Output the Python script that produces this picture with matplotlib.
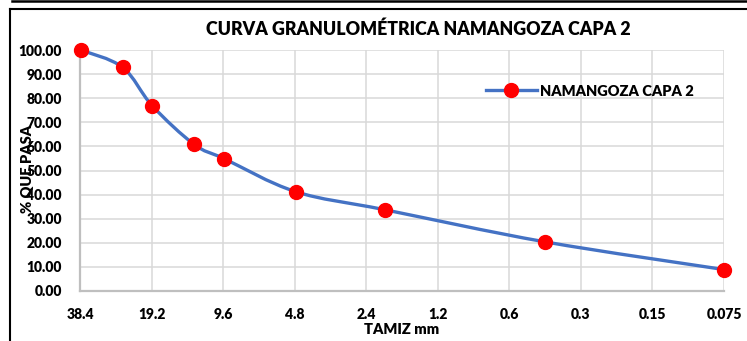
import numpy as np
import matplotlib
matplotlib.use("Agg")
import matplotlib.pyplot as plt
from matplotlib.path import Path
from matplotlib.patches import PathPatch
from matplotlib.lines import Line2D
from matplotlib.ticker import FixedLocator, NullLocator

# Sieve opening (mm) and cumulative percent passing
sieve_mm = [38.1, 25.4, 19.05, 12.7, 9.5, 4.75, 2.0, 0.425, 0.075]
pct_passing = [100.0, 92.8, 76.8, 60.8, 54.9, 41.2, 33.7, 20.4, 8.9]

tick_values = [38.4, 19.2, 9.6, 4.8, 2.4, 1.2, 0.6, 0.3, 0.15, 0.075]
tick_labels = ["38.4", "19.2", "9.6", "4.8", "2.4", "1.2", "0.6", "0.3", "0.15", "0.075"]
y_ticks = [0, 10, 20, 30, 40, 50, 60, 70, 80, 90, 100]

series_name = "NAMANGOZA CAPA 2"
title = "CURVA GRANULOMÉTRICA NAMANGOZA CAPA 2"

FONT = "Lato"
WEIGHT = "heavy"
LINE_C = "#4472C4"
MARK_C = "#FF0000"

fig = plt.figure(figsize=(7.47, 3.41), dpi=100)
ax = fig.add_axes([80 / 747, 50 / 341, 644 / 747, 241 / 341])

ax.set_xscale("log")
ax.set_xlim(38.4, 0.075)
ax.set_ylim(0, 100)

# Smooth curve: Catmull-Rom style cubic Bezier segments computed in
# display-proportional (log-x, y) space, mapped back to data coordinates.
u = np.log2(38.4 / np.array(sieve_mm)) * 71.6
v = np.array(pct_passing) * 2.41
n = len(u)
verts = [(sieve_mm[0], pct_passing[0])]
codes = [Path.MOVETO]

def to_data(pu, pv):
    return (38.4 / 2 ** (pu / 71.6), pv / 2.41)

for i in range(n - 1):
    p0 = (u[max(i - 1, 0)], v[max(i - 1, 0)])
    p1 = (u[i], v[i])
    p2 = (u[i + 1], v[i + 1])
    p3 = (u[min(i + 2, n - 1)], v[min(i + 2, n - 1)])
    c1 = (p1[0] + (p2[0] - p0[0]) / 6, p1[1] + (p2[1] - p0[1]) / 6)
    c2 = (p2[0] - (p3[0] - p1[0]) / 6, p2[1] - (p3[1] - p1[1]) / 6)
    verts += [to_data(*c1), to_data(*c2), to_data(*p2)]
    codes += [Path.CURVE4] * 3

curve = PathPatch(Path(verts, codes), facecolor="none", edgecolor=LINE_C,
                  linewidth=2.4, capstyle="round", joinstyle="round", zorder=3)
ax.add_patch(curve)
ax.plot(sieve_mm, pct_passing, linestyle="none", marker="o", markersize=10,
        markerfacecolor=MARK_C, markeredgecolor=MARK_C, zorder=4, clip_on=False)

# Legend entry
handle = Line2D([], [], color=LINE_C, linewidth=2.4, marker="o", markersize=10,
                markerfacecolor=MARK_C, markeredgecolor=MARK_C)
ax.legend([handle], [series_name], loc="center left",
          bbox_to_anchor=(400 / 644, (341 - 91 - 50) / 241), frameon=False,
          handlelength=3.5, handletextpad=0.2, borderaxespad=0,
          prop={"family": FONT, "weight": WEIGHT, "size": 10.5})

# Axes, ticks, grid
ax.xaxis.set_major_locator(FixedLocator(tick_values))
ax.xaxis.set_minor_locator(NullLocator())
ax.set_xticklabels(tick_labels)
ax.set_yticks(y_ticks)
ax.set_yticklabels([f"{t:.2f}" for t in y_ticks])
for lbl in ax.get_xticklabels() + ax.get_yticklabels():
    lbl.set_fontfamily(FONT)
    lbl.set_fontweight(WEIGHT)
    lbl.set_fontsize(10)
ax.tick_params(axis="x", length=0, pad=12)
ax.tick_params(axis="y", length=0, pad=13)

ax.grid(True, color="#d9d9d9", linewidth=1.1)
ax.set_axisbelow(True)
for side in ("top", "right"):
    ax.spines[side].set_visible(False)
for side in ("left", "bottom"):
    ax.spines[side].set_color("#bfbfbf")
    ax.spines[side].set_linewidth(1.6)

ax.set_xlabel("TAMIZ mm", fontfamily=FONT, fontweight=WEIGHT, fontsize=10.5, labelpad=2)
fig.text(27 / 747, 1 - 169 / 341, "% QUE PASA", rotation=90, ha="center", va="center",
         fontfamily=FONT, fontweight=WEIGHT, fontsize=10.5)

fig.text(418 / 747, 1 - 29 / 341, title, ha="center", va="center",
         fontfamily=FONT, fontweight=WEIGHT, fontsize=12.8)

# Surrounding frame lines
fig.add_artist(Line2D([12 / 747, 1], [1 - 1 / 341, 1 - 1 / 341], color="black", linewidth=1.8))
fig.add_artist(Line2D([9.5 / 747, 1], [1 - 8.5 / 341, 1 - 8.5 / 341], color="black", linewidth=1.5))
fig.add_artist(Line2D([9.5 / 747, 9.5 / 747], [0, 1 - 8.5 / 341], color="black", linewidth=1.5))

fig.savefig("out.png", dpi=100)
